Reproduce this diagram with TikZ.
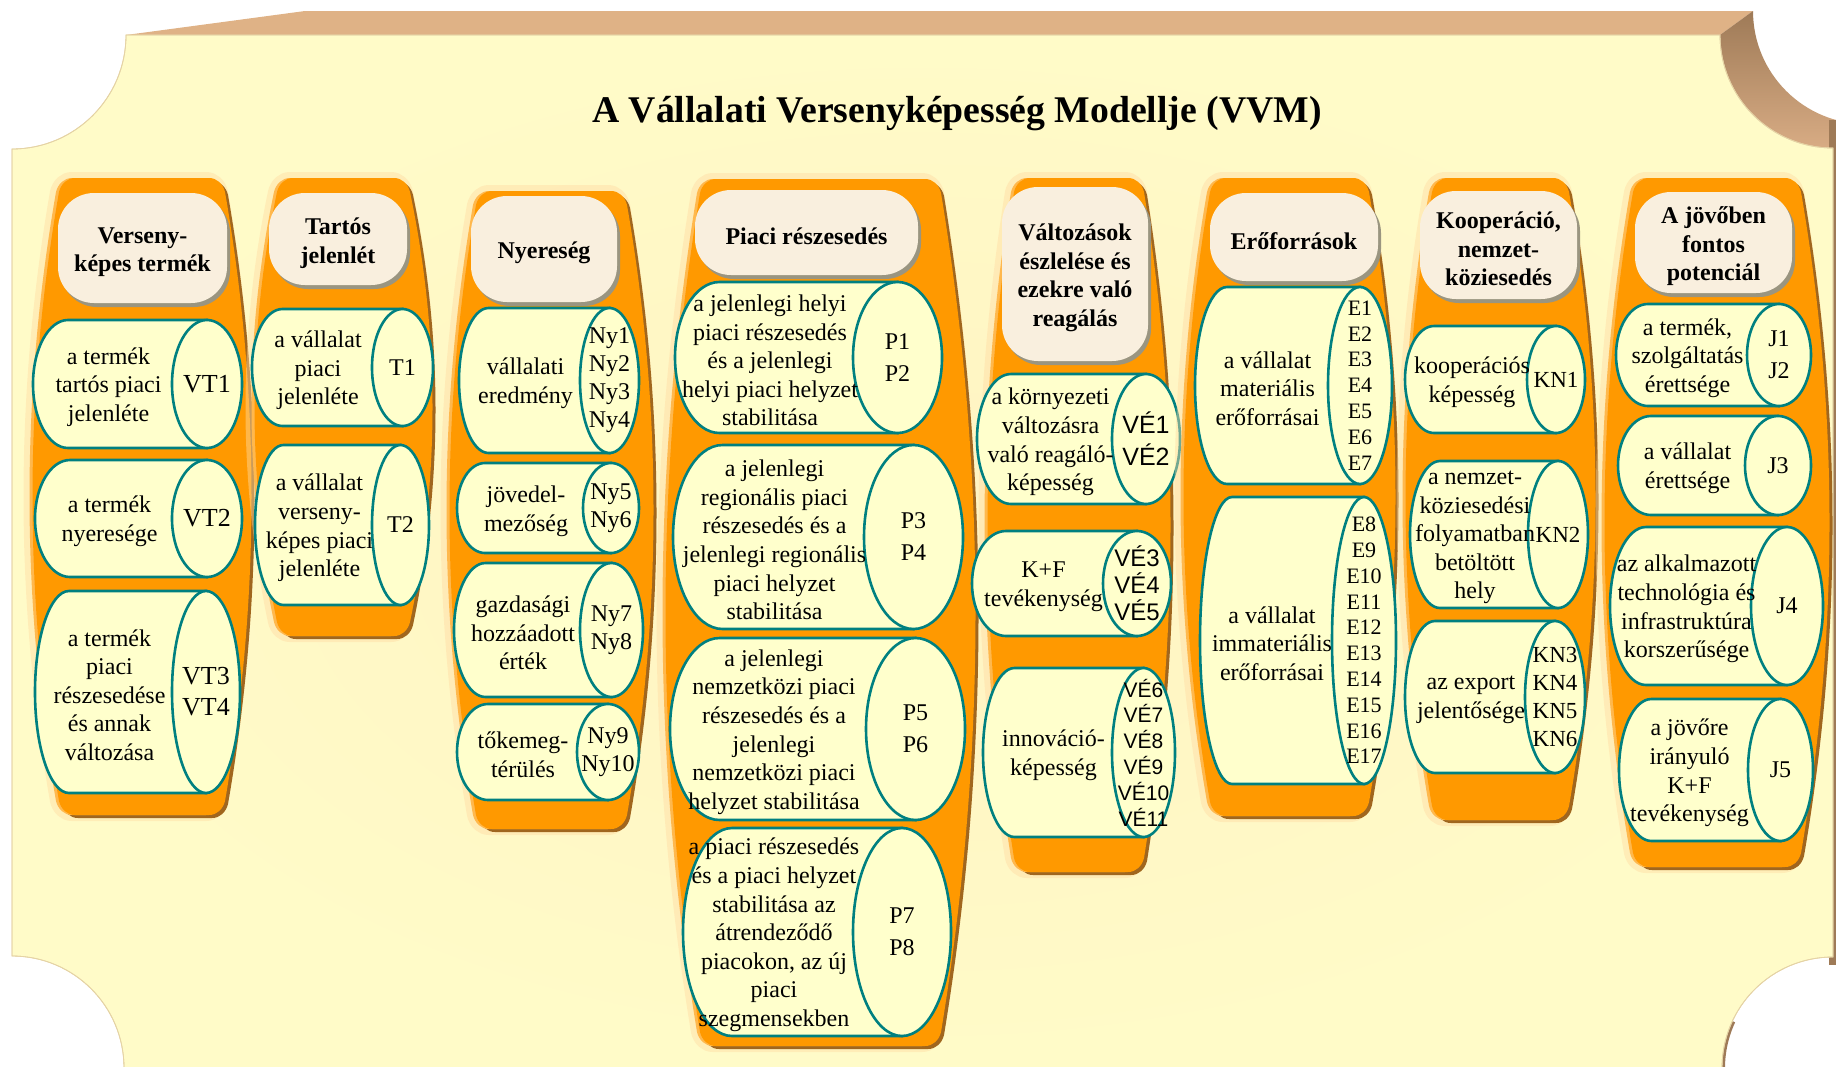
\documentclass[tikz,border=0pt]{standalone}
\usepackage{fontspec}
\setmainfont{Liberation Serif}
\newfontfamily\sansf{Liberation Sans}

\definecolor{panelyellow}{HTML}{FFFBC8}
\definecolor{panelwarm}{HTML}{FFF3C2}
\definecolor{paneledge}{HTML}{E5D3A5}
\definecolor{toptan}{HTML}{DFB286}
\definecolor{sidedark}{HTML}{9E7A57}
\definecolor{sidelight}{HTML}{DDB088}
\definecolor{porange}{HTML}{FF9900}
\definecolor{plight}{HTML}{FFB84D}
\definecolor{pshadow}{HTML}{A0661E}
\definecolor{glow}{HTML}{FFDCA4}
\definecolor{cylfill}{HTML}{FFFFCC}
\definecolor{cylteal}{HTML}{008080}
\definecolor{hdfill}{HTML}{F9EFDE}
\definecolor{hdshadow}{HTML}{9A9580}

\tikzset{
  panel/.style={draw=paneledge, line width=0.8pt, inner color=panelwarm, outer color=panelyellow},
  cylline/.style={fill=cylfill, draw=cylteal, line width=2.6pt},
  bodytext/.style={font=\fontsize{24}{28.6}\selectfont, align=center, inner sep=0pt, yshift=-3pt},
  codetext/.style={font=\fontsize{24}{28}\selectfont, align=center, inner sep=0pt},
  vtcode/.style={font=\fontsize{26}{31}\selectfont},
  pcode/.style={font=\fontsize{24}{32}\selectfont},
  ecode/.style={font=\fontsize{22}{25.8}\selectfont},
  kncode/.style={font=\fontsize{23}{28}\selectfont},
  vea/.style={font=\sansf\fontsize{25}{32}\selectfont},
  veb/.style={font=\sansf\fontsize{24}{27}\selectfont},
  vec/.style={font=\sansf\fontsize{21}{25.8}\selectfont},
  hdtext/.style={font=\bfseries\fontsize{24}{28.5}\selectfont, align=center, inner sep=0pt, yshift=-4pt},
  titletext/.style={font=\bfseries\fontsize{37.7}{44}\selectfont, inner sep=0pt},
}

% barrel-shaped pillar outline: left, right, top, bottom, bulge, path options
\newcommand\pillarshape[6]{%
  \path[#6] (#1+#5+14,#3) -- (#2-#5-14,#3)
    .. controls (#2-#5-6,#3) and (#2-#5,#3+6) .. (#2-#5+2,#3+14)
    .. controls ({#2+#5/3},{#3+14+(#4-#3-28)/3}) and ({#2+#5/3},{#4-14-(#4-#3-28)/3}) .. (#2-#5+2,#4-14)
    .. controls (#2-#5,#4-6) and (#2-#5-6,#4) .. (#2-#5-14,#4)
    -- (#1+#5+14,#4)
    .. controls (#1+#5+6,#4) and (#1+#5,#4-6) .. (#1+#5-2,#4-14)
    .. controls ({#1-#5/3},{#4-14-(#4-#3-28)/3}) and ({#1-#5/3},{#3+14+(#4-#3-28)/3}) .. (#1+#5-2,#3+14)
    .. controls (#1+#5,#3+6) and (#1+#5+6,#3) .. cycle;}

\newcommand\pillar[5]{%
  \pillarshape{#1}{#2}{#3}{#4}{#5}{draw=glow, line width=12pt, opacity=.45}
  \pillarshape{#1}{#2}{#3}{#4}{#5}{fill=pshadow, xshift=6pt, yshift=-3pt}
  \pillarshape{#1}{#2}{#3}{#4}{#5}{fill=plight}
  \pillarshape{#1}{#2}{#3}{#4}{#5}{fill=porange, xshift=3pt}}

% column heading: name, x1, y1, x2, y2, text
\newcommand\header[6]{%
  \fill[hdshadow, rounded corners=36pt] (#2+3,#3+4) rectangle (#4+3,#5+4);
  \fill[hdfill, rounded corners=36pt] (#2,#3) rectangle (#4,#5);
  \node[hdtext] (#1) at ({(#2+#4)/2},{(#3+#5)/2}) {#6};}

% horizontal cylinder: [code style] name, left x, cap left x, right x, top, bottom, text, code
\newcommand\cyl[9][]{%
  \pgfmathsetmacro\crx{(#5-#4)/2}%
  \pgfmathsetmacro\ccx{(#5+#4)/2}%
  \pgfmathsetmacro\cry{(#7-#6)/2}%
  \pgfmathsetmacro\cmy{(#7+#6)/2}%
  \pgfmathsetmacro\clx{#3+\crx}%
  \pgfmathsetmacro\ctx{(#3+#4)/2+6}%
  \draw[cylline] (\clx,#6) -- (\ccx,#6) -- (\ccx,#7) -- (\clx,#7)
    arc[start angle=90, end angle=270, x radius=\crx, y radius=\cry] -- cycle;
  \draw[cylline] (\ccx,\cmy) ellipse[x radius=\crx, y radius=\cry];
  \node[bodytext] (#2) at (\ctx,\cmy) {#8};
  \node[codetext,#1] (#2-c) at (\ccx,\cmy) {#9};}

\begin{document}
\begin{tikzpicture}[x=1pt, y=-1pt]
\useasboundingbox (0,0) rectangle (1836,1066);
\clip (0,0) rectangle (1836,1066);

% board: top face, curved corner side and right side
\fill[toptan] (126,35) -- (305,11) -- (1753,11) -- (1720,35) -- cycle;
\shade[top color=sidedark, bottom color=sidelight]
  (1720,35) -- (1753,11) arc[start angle=180, end angle=90, radius=113]
  -- (1900,124) -- (1900,160) -- (1833,160) -- (1833,148)
  arc[start angle=90, end angle=180, radius=113] -- cycle;
\fill[sidedark] (1829,120) rectangle (1836,965);
\draw[sidedark, line width=6pt] (1722,1068) arc[start angle=180, end angle=205, radius=111];

% board: front face with concave corners
\shade[panel] (126,35) -- (1720,35) arc[start angle=180, end angle=90, radius=113]
  -- (1833,957) arc[start angle=270, end angle=180, radius=111]
  -- (124,1068) arc[start angle=0, end angle=-90, radius=112]
  -- (12,149) arc[start angle=90, end angle=0, radius=114] -- cycle;
\draw[paneledge, line width=0.8pt] (126,35) -- (1720,35) arc[start angle=180, end angle=90, radius=113]
  -- (1833,957) arc[start angle=270, end angle=180, radius=111]
  -- (124,1068) arc[start angle=0, end angle=-90, radius=112]
  -- (12,149) arc[start angle=90, end angle=0, radius=114] -- cycle;

\node[titletext] (title) at (957,114) {A Vállalati Versenyképesség Modellje (VVM)};

% Versenyképes termék
\pillar{30}{248}{178}{815}{28}
\header{h1}{58}{193}{227}{303}{Verseny-\\képes termék}
\cyl[vtcode]{vt1}{33}{172}{242}{320}{448}{a termék\\tartós piaci\\jelenléte}{VT1}
\cyl[vtcode]{vt2}{35}{172}{242}{460}{577}{a termék\\nyeresége}{VT2}
\cyl[vtcode]{vt3}{35}{172}{240}{591}{793}{a termék\\piaci\\részesedése\\és annak\\változása}{VT3\\VT4}

% Tartós jelenlét
\pillar{252}{429}{178}{636}{24}
\header{h2}{269}{193}{407}{285}{Tartós\\jelenlét}
\cyl{t1}{252}{372}{433}{309}{426}{a vállalat\\piaci\\jelenléte}{T1}
\cyl{t2}{255}{372}{429}{445}{605}{a vállalat\\verseny-\\képes piaci\\jelenléte}{T2}

% Nyereség
\pillar{447}{650}{191}{829}{28}
\header{h3}{471}{196}{617}{302}{Nyereség}
\cyl{ny1}{459}{580}{639}{308}{453}{vállalati\\eredmény}{Ny1\\Ny2\\Ny3\\Ny4}
\cyl{ny5}{457}{583}{639}{463}{553}{jövedel-\\mezőség}{Ny5\\Ny6}
\cyl{ny7}{454}{580}{643}{563}{697}{gazdasági\\hozzáadott\\érték}{Ny7\\Ny8}
\cyl{ny9}{457}{577}{639}{704}{800}{tőkemeg-\\térülés}{Ny9\\Ny10}

% Piaci részesedés
\pillar{663}{972}{179}{1046}{36}
\header{h4}{695}{190}{918}{275}{Piaci részesedés}
\cyl[pcode]{p1}{675}{853}{942}{282}{433}{a jelenlegi helyi\\piaci részesedés\\és a jelenlegi\\helyi piaci helyzet\\stabilitása}{P1\\P2}
\cyl[pcode]{p3}{673}{864}{963}{445}{629}{a jelenlegi\\regionális piaci\\részesedés és a\\jelenlegi regionális\\piaci helyzet\\stabilitása}{P3\\P4}
\cyl[pcode]{p5}{670}{866}{965}{638}{820}{a jelenlegi\\nemzetközi piaci\\részesedés és a\\jelenlegi\\nemzetközi piaci\\helyzet stabilitása}{P5\\P6}
\cyl[pcode]{p7}{683}{853}{951}{828}{1036}{a piaci részesedés\\és a piaci helyzet\\stabilitása az\\átrendeződő\\piacokon, az új\\piaci\\szegmensekben}{P7\\P8}

% Változások észlelése
\pillar{985}{1167}{178}{872}{28}
\header{h5}{1002}{187}{1148}{361}{Változások\\észlelése és\\ezekre való\\reagálás}
\cyl[vea]{ve1}{977}{1112}{1180}{374}{504}{a környezeti\\változásra\\való reagáló-\\képesség}{VÉ1\\VÉ2}
\cyl[veb]{ve3}{972}{1103}{1171}{531}{636}{K+F\\tevékenység}{VÉ3\\VÉ4\\VÉ5}
\cyl[vec]{ve6}{983}{1112}{1175}{668}{837}{innováció-\\képesség}{VÉ6\\VÉ7\\VÉ8\\VÉ9\\VÉ10\\VÉ11}

% Erőforrások
\pillar{1181}{1392}{178}{816}{28}
\header{h6}{1210}{193}{1378}{281}{Erőforrások}
\cyl[ecode]{e1}{1195}{1328}{1392}{287}{484}{a vállalat\\materiális\\erőforrásai}{E1\\E2\\E3\\E4\\E5\\E6\\E7}
\cyl[ecode]{e8}{1200}{1332}{1396}{497}{784}{a vállalat\\immateriális\\erőforrásai}{E8\\E9\\E10\\E11\\E12\\E13\\E14\\E15\\E16\\E17}

% Kooperáció, nemzetköziesedés
\pillar{1403}{1592}{178}{820}{28}
\header{h7}{1420}{191}{1577}{299}{Kooperáció,\\nemzet-\\köziesedés}
\cyl[kncode]{kn1}{1405}{1527}{1585}{326}{433}{kooperációs\\képesség}{KN1}
\cyl[kncode]{kn2}{1410}{1528}{1588}{461}{608}{a nemzet-\\köziesedési\\folyamatban\\betöltött\\hely}{KN2}
\cyl[kncode]{kn3}{1405}{1525}{1585}{621}{773}{az export\\jelentősége}{KN3\\KN4\\KN5\\KN6}

% A jövőben fontos potenciál
\pillar{1602}{1826}{178}{867}{30}
\header{h8}{1635}{192}{1792}{293}{A jövőben\\fontos\\potenciál}
\cyl[pcode]{j1}{1616}{1747}{1811}{304}{406}{a termék,\\szolgáltatás\\érettsége}{J1\\J2}
\cyl{j3}{1618}{1745}{1811}{416}{515}{a vállalat\\érettsége}{J3}
\cyl{j4}{1610}{1751}{1823}{527}{685}{az alkalmazott\\technológia és\\infrastruktúra\\korszerűsége}{J4}
\cyl{j5}{1619}{1748}{1813}{699}{841}{a jövőre\\irányuló\\K+F\\tevékenység}{J5}
\end{tikzpicture}
\end{document}
